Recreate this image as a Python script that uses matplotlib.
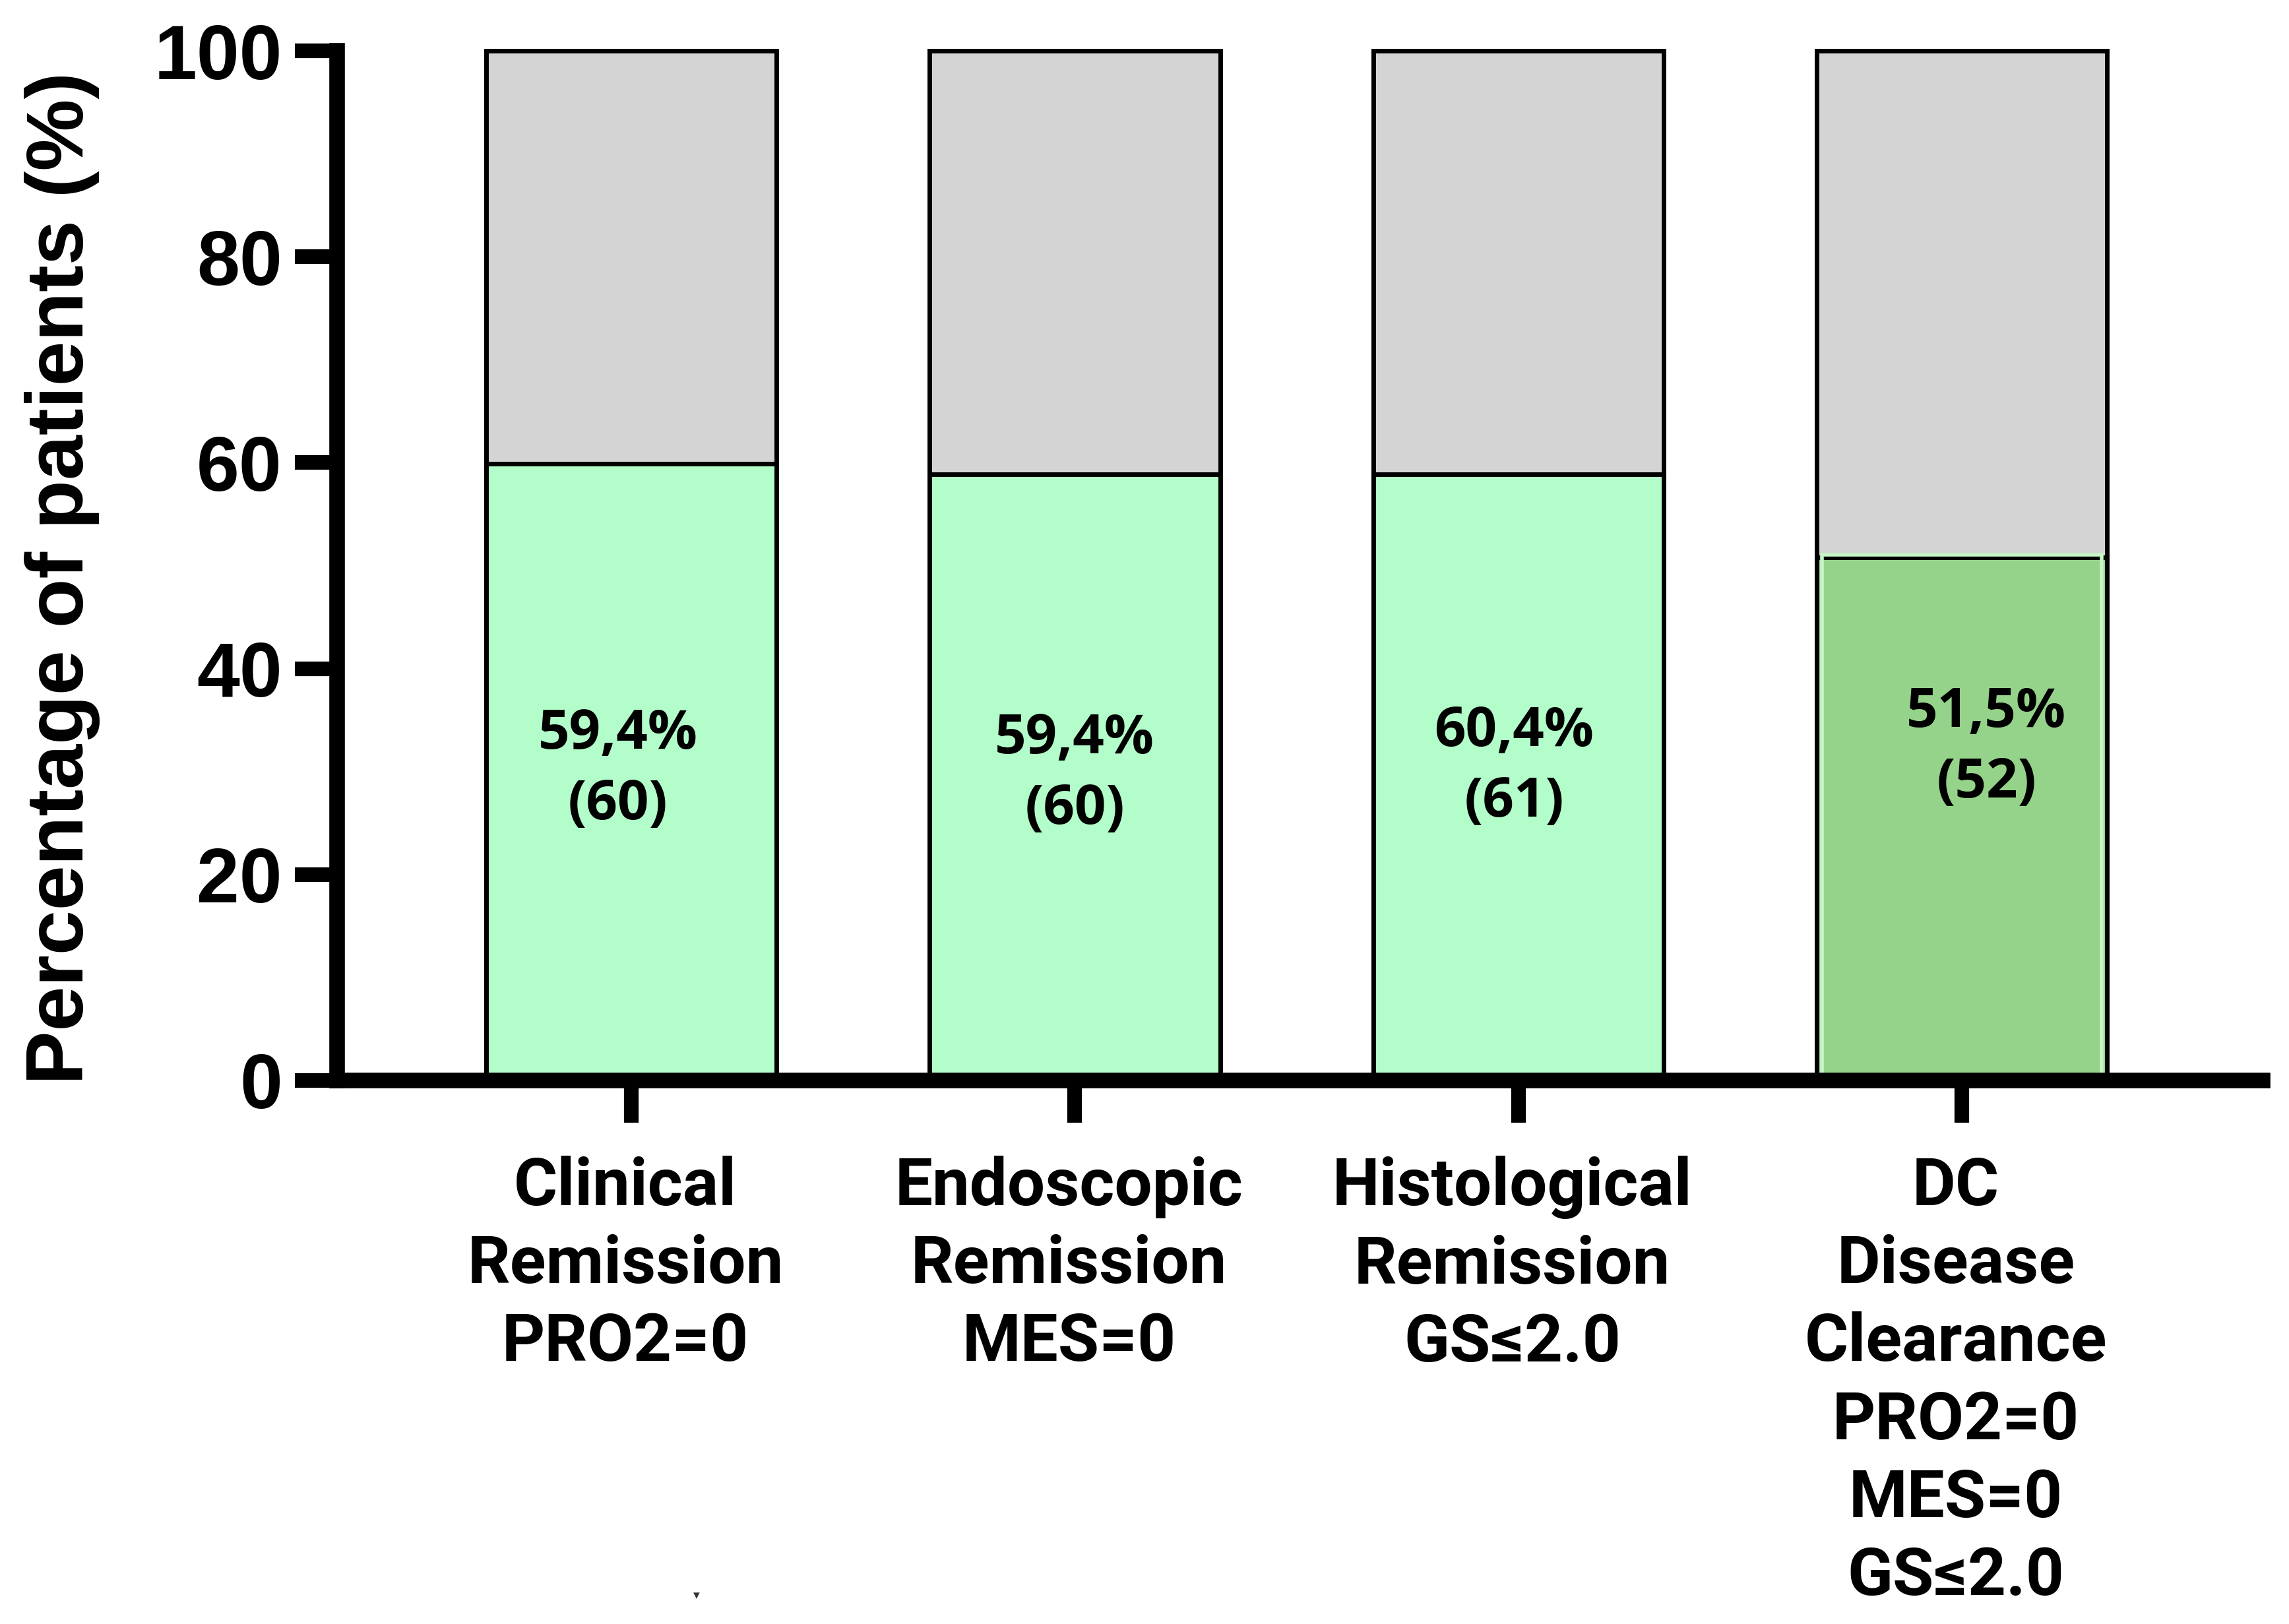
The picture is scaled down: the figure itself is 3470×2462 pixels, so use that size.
import matplotlib
matplotlib.use("Agg")
import matplotlib.pyplot as plt
import matplotlib.transforms as mtransforms

# ---- data ----
categories = ["Clinical\nRemission\nPRO2=0",
              "Endoscopic\nRemission\nMES=0",
              "Histological\nRemission\nGS\u22642.0",
              "DC\nDisease\nClearance\nPRO2=0\nMES=0\nGS\u22642.0"]
remission_pct = [59.9, 58.9, 58.9, 50.8]
pct_labels = ["59,4%", "59,4%", "60,4%", "51,5%"]
n_labels = ["(60)", "(60)", "(61)", "(52)"]
yticks = [0, 20, 40, 60, 80, 100]

# ---- style / layout ----
green_colors = ["#b2fdc9", "#b2fdc9", "#b2fdc9", "#96d38a"]
gray_color = "#d4d4d4"
label_dx = [-0.03, 0.0, -0.01, 0.055]
label_y = [30.2, 29.7, 30.4, 32.3]

fig = plt.figure(figsize=(34.7, 24.62), dpi=100)
ax = fig.add_axes([0.1473, 0.3347, 0.8412, 0.634])

x = list(range(len(categories)))
width = 0.655
rest = [100 - v for v in remission_pct]

ax.bar(x, remission_pct, width=width, color=green_colors, edgecolor="black",
       linewidth=5, zorder=1)
# light inner rim on the last bar
ax.bar([x[3]], [remission_pct[3]], width=width - 0.024, bottom=0.25,
       color="none", edgecolor="#c8f5c8", linewidth=4, zorder=1.1)
ax.bar(x, rest, bottom=remission_pct, width=width, color=gray_color,
       edgecolor="black", linewidth=5, zorder=1, clip_on=False)

for i in x:
    ax.text(i + label_dx[i], label_y[i], pct_labels[i] + "\n" + n_labels[i],
            ha="center", va="center", fontsize=60, fontweight="bold",
            family=["Open Sans", "DejaVu Sans"], linespacing=1.38, zorder=3)

ax.set_xlim(-0.663, 3.678)
ax.set_ylim(0, 100)

for s in ["top", "right"]:
    ax.spines[s].set_visible(False)
for s in ["left", "bottom"]:
    ax.spines[s].set_linewidth(17)
    ax.spines[s].set_zorder(2.5)

ax.set_yticks(yticks)
ax.set_yticklabels([str(t) for t in yticks], fontsize=84, fontweight="bold",
                   family="Liberation Sans")
ax.tick_params(axis="y", length=46, width=16, pad=14)

ax.set_xticks(x)
ax.set_xticklabels(categories, fontsize=73, fontweight="bold",
                   family="Roboto", linespacing=1.31)
ax.tick_params(axis="x", length=46, width=16, pad=36)
shift = mtransforms.ScaledTranslation(-0.09, 0, fig.dpi_scale_trans)
for lab in ax.get_xticklabels():
    lab.set_transform(lab.get_transform() + shift)

ax.set_ylabel("Percentage of patients (%)", fontsize=88, fontweight="bold",
              family="Liberation Sans")
ax.yaxis.set_label_coords(-0.123, 0.488)

fig.text(0.3043, 0.0175, "\u25be", fontsize=14, color="#333333",
         ha="center", va="center")

fig.savefig("out.png", dpi=100, facecolor="white")
